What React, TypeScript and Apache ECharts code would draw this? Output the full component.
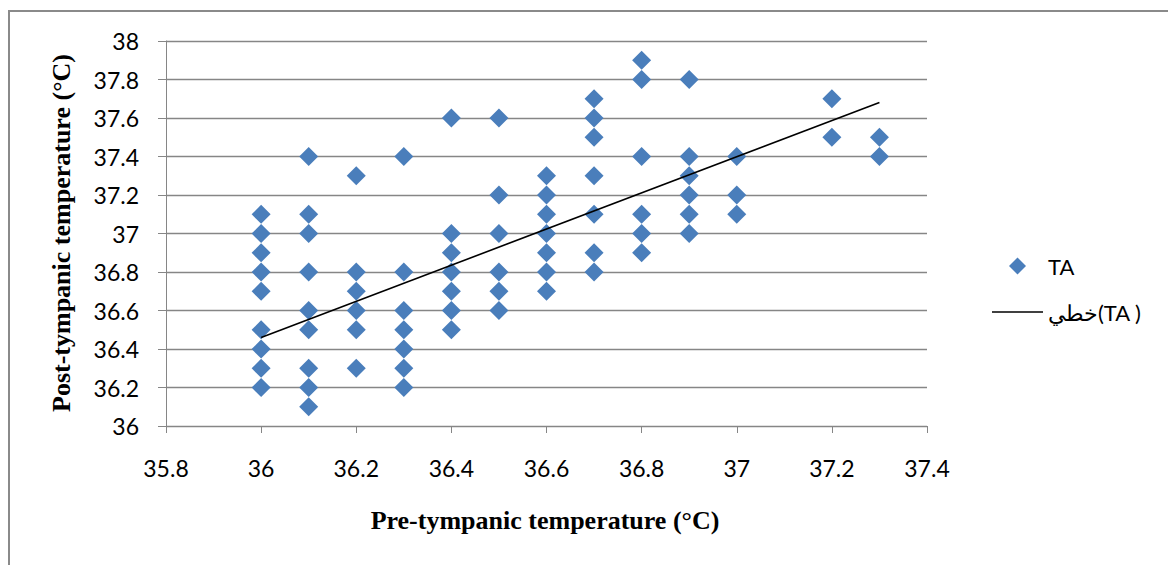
import React, { useEffect, useRef } from "react";
import * as echarts from "echarts";

const preTemps = [36, 36.1, 36.2, 36.3, 36.4, 36.5, 36.6, 36.7, 36.8, 36.9, 37, 37.2, 37.3];
const postAt360 = [37.1, 37.0, 36.9, 36.8, 36.7, 36.5, 36.4, 36.3, 36.2];
const postAt361 = [37.4, 37.1, 37.0, 36.8, 36.6, 36.5, 36.3, 36.2, 36.1];
const postAt362 = [37.3, 36.8, 36.7, 36.6, 36.5, 36.3];
const postAt363 = [37.4, 36.8, 36.6, 36.5, 36.4, 36.3, 36.2];
const postAt364 = [37.6, 37.0, 36.9, 36.8, 36.7, 36.6, 36.5];
const postAt365 = [37.6, 37.2, 37.0, 36.8, 36.7, 36.6];
const postAt366 = [37.3, 37.2, 37.1, 37.0, 36.9, 36.8, 36.7];
const postAt367 = [37.7, 37.6, 37.5, 37.3, 37.1, 36.9, 36.8];
const postAt368 = [37.9, 37.8, 37.4, 37.1, 37.0, 36.9];
const postAt369 = [37.8, 37.4, 37.3, 37.2, 37.1, 37.0];
const postAt370 = [37.4, 37.2, 37.1];
const postAt372 = [37.7, 37.5];
const postAt373 = [37.5, 37.4];
const postColumns = [
  postAt360, postAt361, postAt362, postAt363, postAt364, postAt365, postAt366,
  postAt367, postAt368, postAt369, postAt370, postAt372, postAt373,
];

const trendX = [36, 37.3];
const trendY = [36.46, 37.68];

const xTicks = { min: 35.8, max: 37.4, interval: 0.2 };
const yTicks = { min: 36, max: 38, interval: 0.2 };

const scatterName = "TA";
const trendName = "خطي(TA )";
const xTitle = "Pre-tympanic temperature (°C)";
const yTitle = "Post-tympanic temperature (°C)";

export default function App() {
  const ref = useRef<HTMLDivElement>(null);
  useEffect(() => {
    if (!ref.current) return;
    const chart = echarts.init(ref.current, null, { renderer: "svg" });
    const scatterData: number[][] = [];
    preTemps.forEach((x, i) => postColumns[i].forEach((y) => scatterData.push([x, y])));
    const trendData = trendX.map((x, i) => [x, trendY[i]]);
    const grey = "#868686";
    const tickFont = { fontFamily: "Lato", fontSize: 23, color: "#000" };
    const titleStyle = {
      textAlign: "center",
      textVerticalAlign: "middle",
      fontFamily: "Liberation Serif",
      fontWeight: "bold",
      fontSize: 26,
      fill: "#000",
    };
    chart.setOption({
      animation: false,
      backgroundColor: "#fff",
      grid: { left: 166, top: 41, right: 241, bottom: 139 },
      xAxis: {
        type: "value",
        min: xTicks.min,
        max: xTicks.max,
        interval: xTicks.interval,
        axisLine: { show: true, lineStyle: { color: grey, width: 1 } },
        axisTick: { show: true, length: 7, lineStyle: { color: grey } },
        splitLine: { show: false },
        axisLabel: { ...tickFont, margin: 30, formatter: (v: number) => String(+v.toFixed(1)) },
      },
      yAxis: {
        type: "value",
        min: yTicks.min,
        max: yTicks.max,
        interval: yTicks.interval,
        axisLine: { show: true, lineStyle: { color: grey, width: 1 } },
        axisTick: { show: true, length: 8, lineStyle: { color: grey } },
        splitLine: { show: true, lineStyle: { color: grey, width: 1.3 } },
        axisLabel: { ...tickFont, margin: 27, formatter: (v: number) => String(+v.toFixed(1)) },
      },
      legend: {
        orient: "vertical",
        left: 987,
        top: 250,
        itemWidth: 51,
        itemHeight: 17,
        itemGap: 24,
        symbolKeepAspect: true,
        textStyle: { fontFamily: "Lato", fontSize: 22, color: "#000" },
        data: [
          { name: scatterName, icon: "path://M8.5,0L17,8.5L8.5,17L0,8.5Z" },
          { name: trendName, icon: "path://M0,0H51V1.7H0Z" },
        ],
      },
      series: [
        {
          name: scatterName,
          type: "scatter",
          symbol: "diamond",
          symbolSize: 19,
          itemStyle: { color: "#4A7EBB", opacity: 1 },
          data: scatterData,
          z: 2,
        },
        {
          name: trendName,
          type: "line",
          symbol: "none",
          lineStyle: { color: "#000", width: 1.6 },
          itemStyle: { color: "#000" },
          data: trendData,
          z: 3,
        },
      ],
      graphic: [
        { type: "line", shape: { x1: 9, y1: 11, x2: 1168, y2: 11 }, style: { stroke: "#8a8a8a", lineWidth: 2 } },
        { type: "line", shape: { x1: 9, y1: 10, x2: 9, y2: 565 }, style: { stroke: "#8a8a8a", lineWidth: 2 } },
        { type: "text", x: 545, y: 520, style: { ...titleStyle, text: xTitle } },
        { type: "text", x: 61, y: 233, rotation: Math.PI / 2, style: { ...titleStyle, text: yTitle } },
      ],
    });
    return () => chart.dispose();
  }, []);
  return (
    <div
      ref={ref}
      style={{ position: "absolute", left: 0, top: 0, width: 1168, height: 565, background: "#fff" }}
    />
  );
}
